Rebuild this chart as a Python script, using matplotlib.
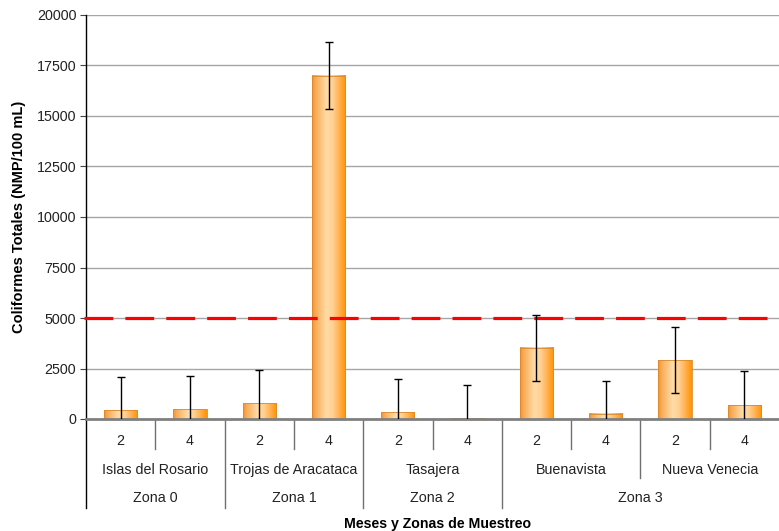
import numpy as np
import matplotlib
matplotlib.use("Agg")
import matplotlib.pyplot as plt
from matplotlib.colors import LinearSegmentedColormap
from matplotlib.lines import Line2D

plt.rcParams['font.family'] = ['Liberation Sans', 'DejaVu Sans']

# Data: total coliforms per sampling month, site and zone
months = ["2", "4", "2", "4", "2", "4", "2", "4", "2", "4"]
sites = ["Islas del Rosario", "Trojas de Aracataca", "Tasajera", "Buenavista", "Nueva Venecia"]
zones = ["Zona 0", "Zona 1", "Zona 2", "Zona 3"]
site_zone = [0, 1, 2, 3, 3]
values = [445, 495, 790, 17000, 345, 40, 3515, 250, 2920, 690]
errors = [1640, 1635, 1635, 1640, 1635, 1660, 1635, 1630, 1635, 1670]
limit = 5000
yticks = [0, 2500, 5000, 7500, 10000, 12500, 15000, 17500, 20000]

W, H = 779, 531
fig = plt.figure(figsize=(W / 100, H / 100), dpi=100)
ax_left, ax_right, ax_top, ax_bot = 86, 779, 15, 419
ax = fig.add_axes([ax_left / W, 1 - ax_bot / H, (ax_right - ax_left) / W, (ax_bot - ax_top) / H])
ax_h = ax_bot - ax_top
ax_w = ax_right - ax_left

n = len(values)
x = np.arange(n)
bw = 0.48
fs = 10.3

ax.set_xlim(-0.5, n - 0.5)
ax.set_ylim(0, 20000)

# gridlines
ax.set_yticks(yticks)
ax.yaxis.grid(True, color="#a6a6a6", lw=1.0)
ax.set_axisbelow(True)
ax.set_yticklabels([str(t) for t in yticks], fontsize=fs, color="#222222")
ax.tick_params(axis="y", length=4, width=0.8, color="#444444", pad=3)
ax.set_xticks([])

for s in ["top", "right"]:
    ax.spines[s].set_visible(False)
ax.spines["left"].set_color("black")
ax.spines["left"].set_linewidth(1.0)
ax.spines["bottom"].set_color("#808080")
ax.spines["bottom"].set_linewidth(2.0)
ax.spines["bottom"].set_zorder(4)

# gradient bars
cmap = LinearSegmentedColormap.from_list(
    "barshade",
    [(0.0, "#F6922A"), (0.12, "#F9AE5C"), (0.42, "#FFDBA6"), (0.62, "#FFD092"),
     (0.85, "#FFAA40"), (1.0, "#FF9400")])
grad = np.linspace(0, 1, 128).reshape(1, -1)
for xi, v in zip(x, values):
    ax.imshow(grad, cmap=cmap, aspect="auto", interpolation="bilinear",
              extent=[xi - bw / 2, xi + bw / 2, 0, v], origin="lower", zorder=2)
    ax.add_patch(plt.Rectangle((xi - bw / 2, 0), bw, v, fill=False,
                               edgecolor="#D98A30", lw=0.6, zorder=2))

ax.errorbar(x, values, yerr=errors, fmt="none", ecolor="black", elinewidth=1.0,
            capsize=3, capthick=1.0, zorder=5)

# guideline limit
x0 = -0.5 - 2.0 * n / ax_w
ax.plot([x0, n - 0.5], [limit, limit], color="#FF0000", lw=2.3, ls=(0, (9.0, 3.8)),
        zorder=3, clip_on=False)

ax.set_xlim(-0.5, n - 0.5)
ax.set_ylim(0, 20000)

ax.set_ylabel("Coliformes Totales (NMP/100 mL)", fontsize=10.5, fontweight="bold", labelpad=8)

# multi-level category axis
trans = ax.get_xaxis_transform()


def fy(px):
    return -px / ax_h


for xi, m in zip(x, months):
    ax.text(xi, fy(22), m, transform=trans, ha="center", va="center", fontsize=fs, color="#222222")

for i, name in enumerate(sites):
    ax.text(2 * i + 0.5, fy(51), name, transform=trans, ha="center", va="center", fontsize=fs, color="#222222")

zone_spans = {}
for i, z in enumerate(site_zone):
    zone_spans.setdefault(z, []).append(i)
for z, idx in zone_spans.items():
    c = (2 * idx[0] - 0.5 + 2 * idx[-1] + 1.5) / 2
    ax.text(c, fy(79), zones[z], transform=trans, ha="center", va="center", fontsize=fs, color="#222222")


def vsep(xpos, depth, color="#707070"):
    ax.add_line(Line2D([xpos, xpos], [0, fy(depth)], transform=trans, color=color,
                       lw=1.0, clip_on=False))


for i in range(len(sites)):
    vsep(2 * i + 0.5, 30)
for i in range(1, len(sites)):
    if site_zone[i] != site_zone[i - 1]:
        vsep(2 * i - 0.5, 89)
    else:
        vsep(2 * i - 0.5, 59)
vsep(-0.5, 89, color="black")

ax.text(0.5 + 5 / ax_w, fy(105), "Meses y Zonas de Muestreo", transform=ax.transAxes, ha="center",
        va="center", fontsize=10.2, fontweight="bold")

fig.savefig("out.png", dpi=100)
